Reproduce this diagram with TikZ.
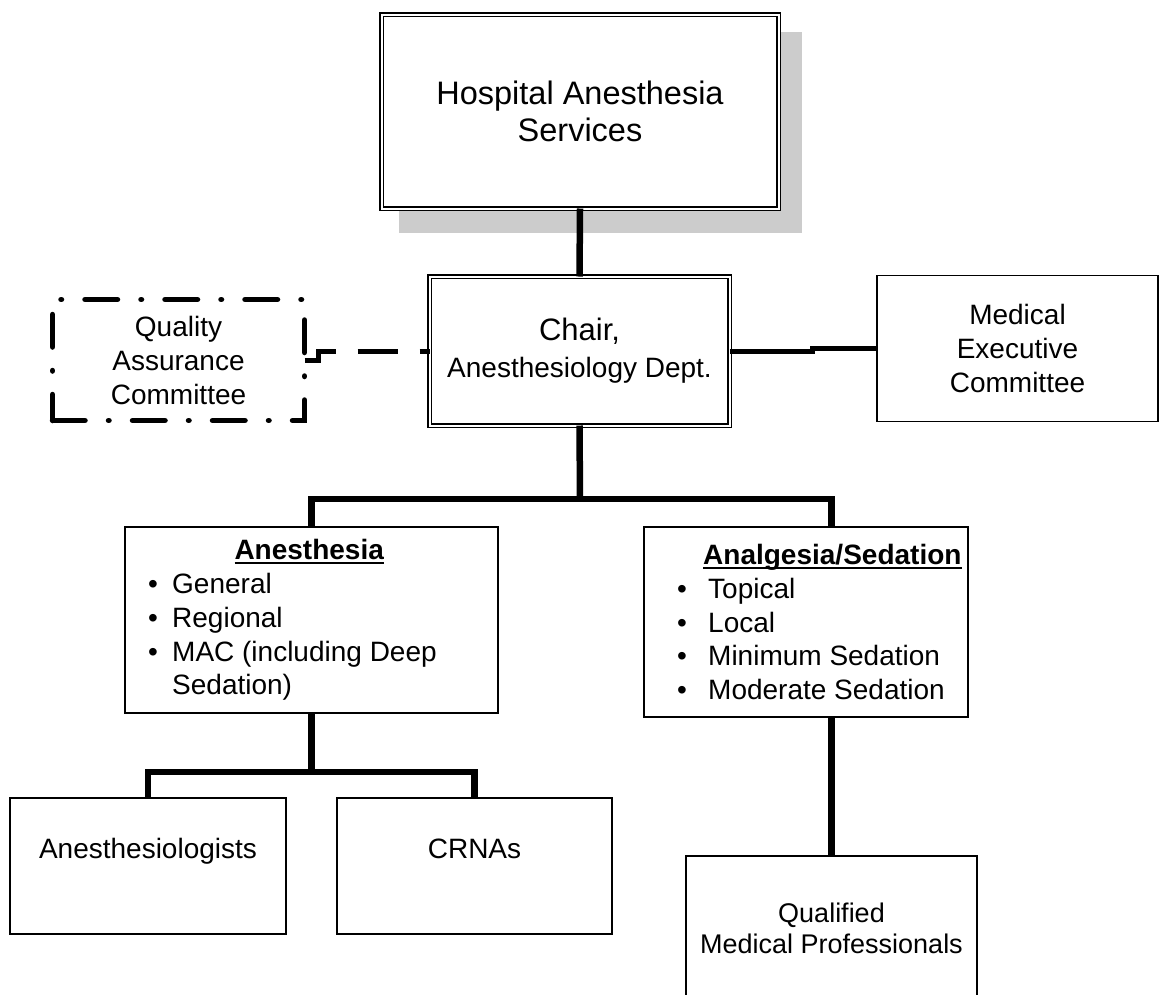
\documentclass[tikz,border=0pt]{standalone}
\usepackage{fontspec}
\setmainfont{Liberation Sans}
\usetikzlibrary{positioning,backgrounds}
\definecolor{shadowgray}{HTML}{CCCCCC}
\newcommand{\fsz}[2]{\fontsize{#1}{#2}\selectfont}
\newcommand{\uhead}[1]{\setbox0\hbox{\bfseries #1}\rlap{\rule[-4.5pt]{\wd0}{2.4pt}}\box0}
\newcommand{\bul}[1][24pt]{\makebox[#1][l]{\textbullet}}
\begin{document}
\begin{tikzpicture}[x=1pt, y=-1pt, line join=miter,
	box/.style={draw, line width=1.6pt, fill=white, inner sep=0pt, outer sep=0pt, align=center, font=\fsz{28}{34}},
	dbox/.style={box, line width=1.5pt, double, double distance=2pt},
	qabox/.style={box, line width=5.5pt, line cap=round, dash pattern=on 32.5pt off 23.5pt on 0.5pt off 23.5pt},
	listtext/.style={inner sep=0pt, align=left, font=\fsz{28}{33.75}},
	tree/.style={line width=6.5pt},
	link/.style={line width=5pt}]
	\useasboundingbox (0,0) rectangle (1161,994);
	\node[dbox, minimum width=397pt, minimum height=194pt, font=\fsz{32.5}{37}] (hosp) at (580,111.5) {Hospital Anesthesia\\Services};
	\begin{scope}[on background layer]
		\fill[shadowgray] ([shift={(17.5,17.5)}]hosp.north west) rectangle ([shift={(23.5,24.5)}]hosp.south east);
	\end{scope}
	\node[dbox, minimum width=300pt, minimum height=149pt, font=\fsz{31}{37}] (chair) at (579.5,351) {Chair,\\{\fsz{28}{37}Anesthesiology Dept.}};
	\node[qabox, minimum width=252pt, minimum height=121pt] (qa) at (178.5,360) {Quality\\Assurance\\Committee};
	\node[box, minimum width=281pt, minimum height=146pt] (mec) at (1017.5,348.5) {Medical\\Executive\\Committee};
	\node[box, minimum width=373pt, minimum height=186pt] (anes) at (311.5,620) {};
	\node[box, minimum width=324pt, minimum height=190pt] (anal) at (806,622) {};
	\node[listtext, anchor=west] (anestext) at ([shift={(23,0)}]anes.west) {\makebox[322pt]{\uhead{Anesthesia}}\\ \bul General\\ \bul Regional\\ \bul MAC (including Deep\\ \hspace*{24pt}Sedation)};
	\node[listtext, anchor=west] (analtext) at ([shift={(33,0)}]anal.west) {\hspace*{26pt}\uhead{Analgesia/Sedation}\\ \bul[31pt]Topical\\ \bul[31pt]Local\\ \bul[31pt]Minimum Sedation\\ \bul[31pt]Moderate Sedation};
	\node[box, minimum width=276pt, minimum height=136pt, text height=20pt, text depth=36pt] (docs) at (148,866) {Anesthesiologists};
	\node[box, minimum width=275pt, minimum height=136pt, text height=20pt, text depth=36pt] (crna) at (474.5,866) {CRNAs};
	\node[box, minimum width=291pt, minimum height=144pt, font=\fsz{27}{31}] (qmp) at (831.5,928) {Qualified\\Medical Professionals};
	\coordinate (upper) at (580,499);
	\coordinate (lower) at (311.5,772);
	\draw[tree] (hosp.south) -- (chair.north);
	\draw[tree] (chair.south) -- (upper);
	\draw[tree] (anes.north) |- (upper) -| (qmp.north |- anal.north);
	\draw[tree] (anes.south) -- (lower);
	\draw[tree] (docs.north) |- (lower) -| (crna.north);
	\draw[tree] (qmp.north |- anal.south) -- (qmp.north);
	\draw[link, dash pattern=on 40pt off 22pt] (qa.east) -- ++(14,0) |- (chair.west);
	\draw[link] (chair.east) -- ++(82.5,0) |- (mec.west);
\end{tikzpicture}
\end{document}
